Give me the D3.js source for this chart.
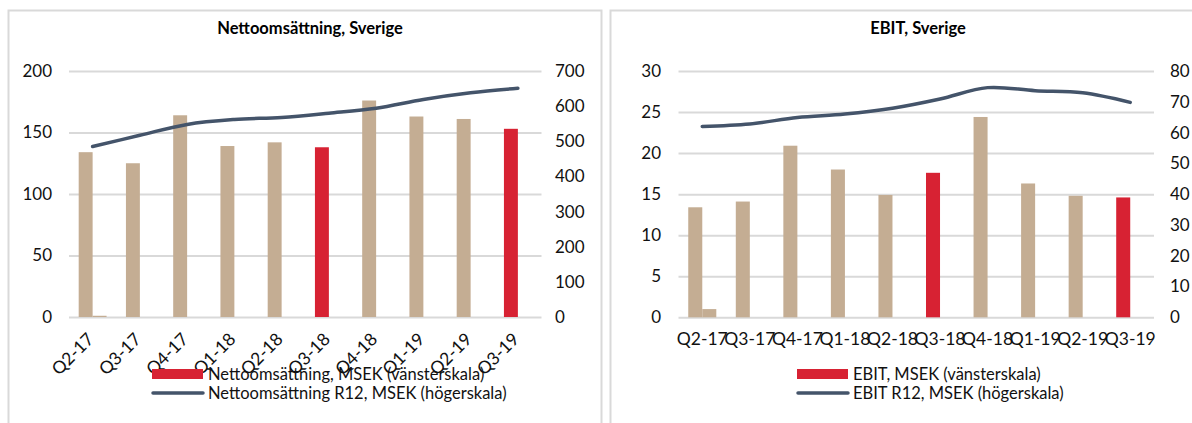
<!DOCTYPE html>
<html>
<head>
<meta charset="utf-8">
<script src="https://cdn.jsdelivr.net/npm/d3@7"></script>
<style>
  body { margin: 0; background: #fff; }
  svg { display: block; font-family: Lato, "Open Sans", sans-serif; }
</style>
</head>
<body>
<svg id="chart" width="1192" height="423"></svg>
<script>
// quarters shown on the x axis
const quarters = ["Q2-17", "Q3-17", "Q4-17", "Q1-18", "Q2-18", "Q3-18", "Q4-18", "Q1-19", "Q2-19", "Q3-19"];
const highlighted = ["Q3-18", "Q3-19"];

// Nettoomsättning (left panel)
const salesQuarter = [134, 125, 164, 139, 142, 138, 176, 163, 161, 153];
const salesExtra = [1, 0, 0, 0, 0, 0, 0, 0, 0, 0];
const salesR12 = [485, 517, 548, 562, 568, 580, 594, 619, 638, 651];
const salesLeftTicks = [0, 50, 100, 150, 200];
const salesRightTicks = [0, 100, 200, 300, 400, 500, 600, 700];

// EBIT (right panel)
const ebitQuarter = [13.4, 14.1, 20.9, 18.0, 14.9, 17.6, 24.4, 16.3, 14.8, 14.6];
const ebitExtra = [1.0, 0, 0, 0, 0, 0, 0, 0, 0, 0];
const ebitR12 = [62.0, 62.8, 64.9, 66.0, 67.9, 70.9, 74.6, 73.6, 72.9, 69.8];
const ebitLeftTicks = [0, 5, 10, 15, 20, 25, 30];
const ebitRightTicks = [0, 10, 20, 30, 40, 50, 60, 70, 80];

const BEIGE = "#c4ad93";
const RED = "#d72233";
const LINE = "#44546a";
const GRID = "#d9d9d9";

const svg = d3.select("#chart");

function drawPanel(opt) {
    const g = svg.append("g");

    // panel frame (runs off the bottom of the picture)
    g.append("rect")
        .attr("x", opt.frame[0]).attr("y", opt.frame[1])
        .attr("width", opt.frame[2]).attr("height", 600)
        .attr("fill", "none").attr("stroke", GRID).attr("stroke-width", 2);

    const x = d3.scaleBand().domain(quarters).range([opt.x0, opt.x1]);
    const bw = x.bandwidth();
    const groupW = bw * 0.59;
    const sub = d3.scaleBand().domain(["main", "extra"])
        .range([(bw - groupW) / 2, (bw + groupW) / 2]);

    const yL = d3.scaleLinear().domain([0, d3.max(opt.leftTicks)]).range([opt.yBottom, opt.yTop]);
    const yR = d3.scaleLinear().domain([0, d3.max(opt.rightTicks)]).range([opt.yBottom, opt.yTop]);

    // gridlines
    g.append("g")
        .attr("transform", `translate(${opt.x0},0)`)
        .call(d3.axisLeft(yL).tickValues(opt.leftTicks).tickSize(-(opt.x1 - opt.x0)).tickFormat(""))
        .call(g => g.select(".domain").remove())
        .call(g => g.selectAll("line").attr("stroke", GRID).attr("stroke-width", 2));

    // left axis labels
    g.append("g")
        .attr("transform", `translate(${opt.leftLabelX},0)`)
        .call(d3.axisLeft(yL).tickValues(opt.leftTicks).tickSize(0).tickPadding(0))
        .call(g => g.select(".domain").remove())
        .call(g => g.selectAll("text").attr("font-size", 17).attr("fill", "#111").attr("font-family", "Lato"));

    // right axis labels
    g.append("g")
        .attr("transform", `translate(${opt.rightLabelX},0)`)
        .call(d3.axisRight(yR).tickValues(opt.rightTicks).tickSize(0).tickPadding(0))
        .call(g => g.select(".domain").remove())
        .call(g => g.selectAll("text").attr("font-size", 17).attr("fill", "#111").attr("font-family", "Lato"));

    const rows = quarters.map((q, i) => ({ q, main: opt.bars[i], extra: opt.extra[i], r12: opt.line[i] }));

    // bars
    g.append("g").selectAll("rect.main")
        .data(rows).join("rect")
        .attr("x", d => x(d.q) + sub("main"))
        .attr("width", sub.bandwidth())
        .attr("y", d => yL(d.main))
        .attr("height", d => yL(0) - yL(d.main))
        .attr("fill", d => highlighted.includes(d.q) ? RED : BEIGE);

    g.append("g").selectAll("rect.extra")
        .data(rows.filter(d => d.extra > 0)).join("rect")
        .attr("x", d => x(d.q) + sub("extra"))
        .attr("width", sub.bandwidth())
        .attr("y", d => yL(d.extra))
        .attr("height", d => yL(0) - yL(d.extra))
        .attr("fill", BEIGE);

    // R12 line
    const line = d3.line()
        .x(d => x(d.q) + bw / 2)
        .y(d => yR(d.r12))
        .curve(d3.curveCatmullRom.alpha(0.5));
    g.append("path")
        .attr("d", line(rows))
        .attr("fill", "none")
        .attr("stroke", LINE)
        .attr("stroke-width", 3.5)
        .attr("stroke-linecap", "round");

    // x labels
    const xl = g.append("g").selectAll("text")
        .data(quarters).join("text")
        .attr("font-size", 17.5)
        .attr("fill", "#111")
        .text(d => d);
    if (opt.rotate) {
        xl.attr("text-anchor", "end")
            .attr("dy", "0.35em")
            .attr("transform", d => `translate(${x(d) + bw / 2 - 2},336) rotate(-45)`);
    } else {
        xl.attr("text-anchor", "middle")
            .attr("x", d => x(d) + bw / 2)
            .attr("y", 345);
    }

    // title
    g.append("text")
        .attr("x", opt.titleX).attr("y", 34)
        .attr("text-anchor", "middle")
        .attr("font-size", 16.5).attr("font-weight", 700)
        .attr("fill", "#000")
        .text(opt.title);

    // legend
    const lg = g.append("g").attr("transform", `translate(${opt.legendX},0)`);
    lg.append("rect").attr("x", 0).attr("y", 369).attr("width", 51).attr("height", 10).attr("fill", RED);
    lg.append("text").attr("x", 56).attr("y", 380).attr("font-size", 16.5).attr("fill", "#111").text(opt.legend[0]);
    lg.append("line").attr("x1", 1).attr("x2", 51).attr("y1", 393).attr("y2", 393)
        .attr("stroke", LINE).attr("stroke-width", 3.5).attr("stroke-linecap", "round");
    lg.append("text").attr("x", 56).attr("y", 399).attr("font-size", 16.5).attr("fill", "#111").text(opt.legend[1]);
}

drawPanel({
    frame: [8.5, 10.5, 593],
    x0: 69, x1: 541.5, yTop: 71, yBottom: 317,
    leftLabelX: 52, rightLabelX: 555,
    leftTicks: salesLeftTicks, rightTicks: salesRightTicks,
    bars: salesQuarter, extra: salesExtra, line: salesR12,
    rotate: true,
    title: "Nettoomsättning, Sverige", titleX: 310,
    legendX: 152,
    legend: ["Nettoomsättning, MSEK (vänsterskala)", "Nettoomsättning R12, MSEK (högerskala)"]
});

drawPanel({
    frame: [610.5, 10.5, 700],
    x0: 678.5, x1: 1154, yTop: 71, yBottom: 317.3,
    leftLabelX: 661, rightLabelX: 1170,
    leftTicks: ebitLeftTicks, rightTicks: ebitRightTicks,
    bars: ebitQuarter, extra: ebitExtra, line: ebitR12,
    rotate: false,
    title: "EBIT, Sverige", titleX: 918,
    legendX: 797,
    legend: ["EBIT, MSEK (vänsterskala)", "EBIT R12, MSEK (högerskala)"]
});
</script>
</body>
</html>
